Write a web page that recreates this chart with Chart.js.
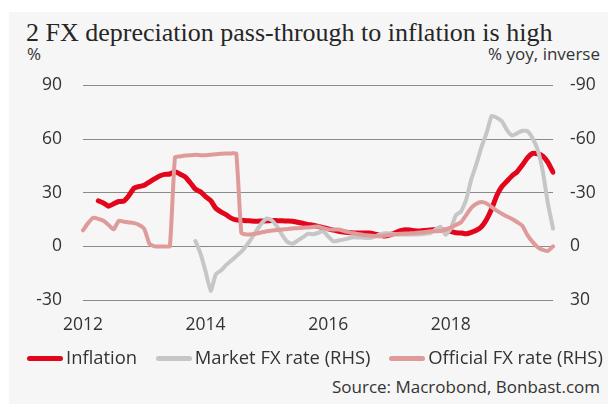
<!DOCTYPE html>
<html>
<head>
<meta charset="utf-8">
<script src="https://cdn.jsdelivr.net/npm/chart.js@4.4.1/dist/chart.umd.min.js"></script>
<style>
  body { margin: 0; width: 608px; height: 404px; background: #fff; overflow: hidden; font-family: "Open Sans", Lato, sans-serif; color: #333; }
  .panel { position: absolute; left: 9px; top: 12px; width: 599px; height: 392px; background: #f6f6f6; }
  .title { position: absolute; left: 26px; top: 19px; font-family: "Liberation Serif", serif; font-size: 26px; line-height: 28px; color: #262626; white-space: nowrap; }
  .unit { position: absolute; top: 44px; font-size: 17px; line-height: 20px; }
  .unit.left { left: 27px; }
  .unit.right { right: 8px; }
  #chartBox { position: absolute; left: 0; top: 54px; width: 608px; height: 293px; }
  .legend { position: absolute; left: 27px; top: 346px; font-size: 18.4px; line-height: 22px; white-space: nowrap; }
  .legend span.item { display: inline-block; margin-right: 14px; }
  .legend i { display: inline-block; width: 36px; height: 5px; border-radius: 3px; vertical-align: middle; margin-right: 3px; position: relative; top: -1px; }
  .source { position: absolute; right: 8px; top: 377px; font-size: 17px; line-height: 20px; }
</style>
</head>
<body>
<div class="panel"></div>
<div class="title">2 FX depreciation pass-through to inflation is high</div>
<div class="unit left">%</div>
<div class="unit right">% yoy, inverse</div>
<div id="chartBox"><canvas id="fxChart"></canvas></div>
<div class="legend">
  <span class="item"><i style="background:#e3051b"></i>Inflation</span>
  <span class="item"><i style="background:#c6c6c6"></i>Market FX rate (RHS)</span>
  <span class="item"><i style="background:#df9a9a"></i>Official FX rate (RHS)</span>
</div>
<div class="source">Source: Macrobond, Bonbast.com</div>

<script>
// monthly data, Jan 2012 .. Sep 2019 (93 months)
const yearTicks = ['2012', '2014', '2016', '2018'];
const leftTicks = [90, 60, 30, 0, -30];

// inflation, % (left axis) - starts Apr 2012
const inflation = [
  null, null, null, 25.5, 24.3, 22.5, 23.8, 25.1, 25.3, 28.5, 32.6, 33.5,
  34.2, 36, 37.8, 39.4, 40.3, 40.5, 41.8, 40.4, 38.9, 35.6, 32, 30.5,
  27.8, 25.6, 21.3, 19.3, 17.7, 15.8, 14.8, 14.6, 14.4, 14.2, 14.1, 14.2,
  14.3, 14.5, 14.4, 14.3, 14.2, 14.1, 13.5, 12.9, 12.3, 11.8, 11.2, 10.5,
  9.8, 9.1, 8.5, 8, 7.7, 7.5, 7.5, 7.5, 7.5, 7, 6.3, 5.8,
  6.3, 7.5, 8.6, 9.3, 9.1, 8.7, 8.6, 8.9, 9.2, 9.4, 9.3, 8.9,
  8.3, 7.6, 7.5, 7, 7.8, 9, 11, 15, 21, 28.5, 33.5, 36.5,
  39.5, 41.8, 45.5, 49.5, 52, 51.8, 50.5, 47, 41.5
];

// market (free) FX rate, % yoy (right axis, inverse) - starts Nov 2013
const marketFx = [
  null, null, null, null, null, null, null, null, null, null, null, null,
  null, null, null, null, null, null, null, null, null, null, -3, 4,
  14, 25, 15.5, 13.5, 10.5, 8, 5.5, 3, -0.5, -4.5, -9, -13,
  -15.6, -14.5, -11, -6.3, -2.5, -1.5, -3.2, -5, -7, -6.8, -7.5, -8.5,
  -5.5, -2.8, -3.3, -3.8, -4.5, -5.1, -5, -4.8, -4.7, -5.4, -6.5, -7.3,
  -7.3, -6.9, -6.6, -6.6, -6.6, -6.6, -6.8, -7.1, -7.4, -9.5, -11, -6.5,
  -10, -17.5, -19.5, -26, -37.5, -46, -55.5, -63.5, -73, -72, -70, -65,
  -62, -63.3, -64.7, -64.5, -60.5, -54, -42, -24, -10
];

// official FX rate, % yoy (right axis, inverse)
const officialFx = [
  -9, -13, -16, -15.4, -14.3, -12, -9.5, -14.3, -13.8, -13.4, -13, -12,
  -9.8, -1.5, 0, 0, 0, 0, -49.8, -50.3, -50.8, -51, -51.2, -51,
  -51, -51.2, -51.5, -51.8, -52, -52, -52, -7.5, -6.7, -6.8, -7.2, -7.9,
  -8.5, -8.9, -9.2, -9.5, -9.7, -10, -10.2, -10.4, -10.6, -10.9, -11.1, -10.2,
  -9.5, -9.4, -9.4, -8.7, -8, -7.3, -6.8, -6.4, -6.1, -5.8, -5.6, -6,
  -6.4, -6.8, -7, -7.2, -7.3, -7.5, -7.8, -8.1, -8.4, -8.5, -8.6, -9.5,
  -10.5, -12, -13.5, -17.5, -21.5, -23.8, -24.8, -24, -22, -20, -18.3, -16.7,
  -15.3, -13.5, -11.5, -6.3, -2.5, 0.5, 2, 2.5, 0
];

// month labels for the category axis
const months = [];
for (let y = 2012; y <= 2019; y++) {
  for (let m = 1; m <= 12; m++) {
    if (months.length < inflation.length) months.push(y + '-' + String(m).padStart(2, '0'));
  }
}

const tickFont = { family: 'Open Sans', size: 17.5 };

new Chart(document.getElementById('fxChart'), {
  type: 'line',
  data: {
    labels: months,
    datasets: [
      { label: 'Inflation', data: inflation, yAxisID: 'y', borderColor: '#e3051b', borderWidth: 5, order: 3 },
      { label: 'Market FX rate (RHS)', data: marketFx, yAxisID: 'y1', borderColor: '#c6c6c6', borderWidth: 4, order: 2 },
      { label: 'Official FX rate (RHS)', data: officialFx, yAxisID: 'y1', borderColor: '#df9a9a', borderWidth: 4, order: 1 }
    ]
  },
  options: {
    responsive: true,
    maintainAspectRatio: false,
    animation: false,
    layout: { padding: { top: 20, right: 0, bottom: 0, left: 0 } },
    elements: {
      point: { radius: 0 },
      line: { tension: 0.15, borderCapStyle: 'round', borderJoinStyle: 'round' }
    },
    plugins: { legend: { display: false }, tooltip: { enabled: false } },
    scales: {
      x: {
        offset: false,
        grid: { display: false },
        border: { display: false },
        ticks: {
          color: '#333', font: tickFont, padding: 7, autoSkip: false, maxRotation: 0,
          callback: (val, i) => (i % 24 === 0 ? yearTicks[i / 24] : null)
        },
        afterFit: s => { s.height = 47; }
      },
      y: {
        position: 'left',
        min: -30, max: 90,
        afterBuildTicks: s => { s.ticks = leftTicks.map(v => ({ value: v })); },
        grid: { color: '#8a8a8a', lineWidth: 1, drawTicks: false },
        border: { display: false },
        ticks: { color: '#333', font: tickFont, padding: 21 },
        afterFit: s => { s.width = 83; }
      },
      y1: {
        position: 'right',
        reverse: true,
        min: -90, max: 30,
        afterBuildTicks: s => { s.ticks = leftTicks.map(v => ({ value: -v })); },
        grid: { drawOnChartArea: false, drawTicks: false },
        border: { display: false },
        ticks: { color: '#333', font: tickFont, padding: 17 },
        afterFit: s => { s.width = 55; }
      }
    }
  }
});
</script>
</body>
</html>
